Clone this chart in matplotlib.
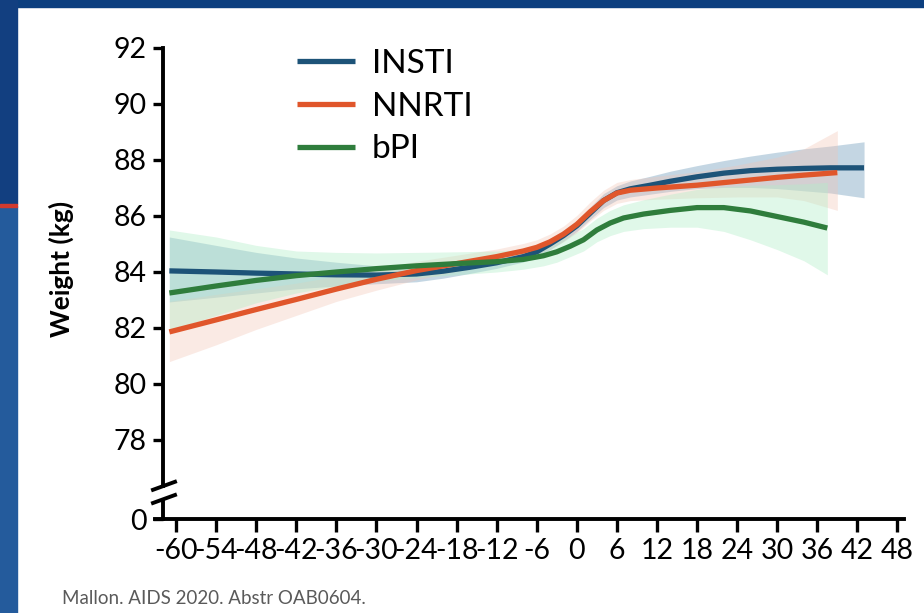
import matplotlib
matplotlib.use('Agg')
import matplotlib.pyplot as plt
from matplotlib.patches import Rectangle
from matplotlib.lines import Line2D

plt.rcParams['font.family'] = ['Lato', 'DejaVu Sans']

# months from ART switch
insti_m = [-61, -54, -48, -42, -36, -30, -24, -20, -16, -12, -8, -6, -4, -2, 0, 2, 4, 6, 8, 11, 14, 18, 22, 26, 30, 34, 38, 43]
insti_y = [84.04, 84.0, 83.96, 83.93, 83.9, 83.89, 83.93, 84.03, 84.17, 84.33, 84.55, 84.72, 85.0, 85.3, 85.65,
           86.1, 86.55, 86.83, 86.97, 87.1, 87.24, 87.4, 87.53, 87.62, 87.67, 87.7, 87.72, 87.72]
insti_lo = [82.93, 83.1, 83.25, 83.4, 83.5, 83.58, 83.65, 83.78, 83.95, 84.13, 84.36, 84.53, 84.8, 85.1, 85.45,
            85.88, 86.3, 86.57, 86.68, 86.78, 86.88, 86.98, 87.02, 87.02, 86.98, 86.9, 86.82, 86.65]
insti_hi = [85.25, 84.95, 84.7, 84.5, 84.35, 84.22, 84.2, 84.27, 84.38, 84.52, 84.74, 84.91, 85.2, 85.5, 85.85,
            86.32, 86.8, 87.08, 87.25, 87.42, 87.6, 87.8, 87.98, 88.14, 88.28, 88.4, 88.5, 88.65]

nnrti_m = [-61, -54, -48, -42, -36, -30, -24, -18, -12, -8, -6, -4, -2, 0, 2, 4, 6, 8, 12, 18, 24, 30, 34, 39]
nnrti_y = [81.86, 82.29, 82.66, 83.02, 83.39, 83.74, 84.05, 84.3, 84.55, 84.75, 84.88, 85.08, 85.35, 85.7,
           86.15, 86.55, 86.82, 86.92, 87.0, 87.1, 87.24, 87.38, 87.46, 87.55]
nnrti_lo = [80.8, 81.4, 81.95, 82.45, 82.95, 83.35, 83.72, 84.02, 84.3, 84.5, 84.63, 84.82, 85.08, 85.4,
            85.82, 86.2, 86.45, 86.55, 86.6, 86.65, 86.68, 86.68, 86.55, 86.2]
nnrti_hi = [82.95, 83.2, 83.4, 83.6, 83.85, 84.12, 84.38, 84.6, 84.82, 85.02, 85.15, 85.36, 85.64, 86.02,
            86.5, 86.92, 87.2, 87.3, 87.42, 87.58, 87.82, 88.1, 88.4, 89.05]

bpi_m = [-61, -54, -48, -42, -36, -30, -24, -18, -12, -8, -5, -3, -1, 1, 3, 5, 7, 10, 14, 18, 22, 26, 30, 34, 37.5]
bpi_y = [83.25, 83.5, 83.7, 83.87, 84.0, 84.12, 84.22, 84.3, 84.37, 84.45, 84.58, 84.72, 84.92, 85.15, 85.5,
         85.75, 85.93, 86.07, 86.2, 86.3, 86.3, 86.18, 85.98, 85.78, 85.57]
bpi_lo = [81.9, 82.45, 82.9, 83.25, 83.5, 83.68, 83.8, 83.9, 84.0, 84.1, 84.22, 84.35, 84.55, 84.75, 85.08,
          85.3, 85.45, 85.55, 85.6, 85.6, 85.45, 85.15, 84.8, 84.4, 83.9]
bpi_hi = [85.5, 85.25, 84.95, 84.75, 84.7, 84.68, 84.7, 84.72, 84.75, 84.8, 84.94, 85.1, 85.3, 85.55, 85.92,
          86.2, 86.4, 86.58, 86.78, 86.95, 87.05, 87.1, 87.12, 87.15, 87.2]

series = ['INSTI', 'NNRTI', 'bPI']
line_cols = ['#1d5378', '#e0562b', '#2f7d3c']
band_cols = ['#9dbcd1', '#f3c3b3', '#b2eec8']
band_alpha = [0.6, 0.35, 0.4]

xticks = list(range(-60, 49, 6))
yticks = [78, 80, 82, 84, 86, 88, 90, 92]
y_zero = 78 - 79 / 28.0   # where the broken axis puts 0

W, H = 924, 613
fig = plt.figure(figsize=(W / 100, H / 100), dpi=100, facecolor='white')

# slide frame
fig.add_artist(Rectangle((0, 1 - 7 / H), 1, 7 / H, transform=fig.transFigure, color='#0c3f7f', zorder=0))
fig.add_artist(Rectangle((0, 1 - 204 / H), 17 / W, 204 / H, transform=fig.transFigure, color='#123f80', zorder=0))
fig.add_artist(Rectangle((0, 0), 17 / W, 1 - 206 / H, transform=fig.transFigure, color='#245b9c', zorder=0))
fig.add_artist(Rectangle((0, 1 - 207 / H), 17 / W, 3 / H, transform=fig.transFigure, color='#d23a2e', zorder=0))

ax = fig.add_axes([163 / W, 1 - 519 / H, (904 - 163) / W, (519 - 48) / H])

data = [(insti_m, insti_y, insti_lo, insti_hi),
        (nnrti_m, nnrti_y, nnrti_lo, nnrti_hi),
        (bpi_m, bpi_y, bpi_lo, bpi_hi)]

for (m, y, lo, hi), c, a in zip(data, band_cols, band_alpha):
    ax.fill_between(m, lo, hi, color=c, alpha=a, lw=0, zorder=1)
handles = []
for (m, y, lo, hi), c, name in zip(data, line_cols, series):
    ln, = ax.plot(m, y, color=c, lw=3.8, solid_capstyle='butt', zorder=3, label=name)
    handles.append(ln)

ax.set_xlim(-61.95, 48.98)
ax.set_ylim(y_zero, 92)
ax.set_xticks(xticks)
ax.set_xticklabels([str(t) for t in xticks])
ax.set_yticks([y_zero] + yticks)
ax.set_yticklabels(['0'] + [str(t) for t in yticks])
ax.tick_params(axis='both', labelsize=20.5, width=2.4, length=7, color='black', pad=5)
ax.tick_params(axis='x', length=9, pad=5)

for s in ['top', 'right', 'left', 'bottom']:
    ax.spines[s].set_visible(False)

# axes lines with break on y
kw = dict(transform=ax.transAxes, color='black', lw=2.8, clip_on=False, zorder=5)
ax.add_line(Line2D([-0.011, 1.0], [0, 0], **kw))
ax.add_line(Line2D([0, 0], [0.07, 1.0], **kw))
ax.add_line(Line2D([0, 0], [0, 0.036], **kw))
ax.add_line(Line2D([-0.0135, 0.0162], [0.062, 0.079], **kw))
ax.add_line(Line2D([-0.0135, 0.0162], [0.034, 0.051], **kw))

ax.set_ylabel('Weight (kg)', fontsize=19, fontweight='bold')
ax.yaxis.set_label_coords(-0.12, 0.53)

fig.legend(handles=handles, labels=series, loc='upper left', bbox_to_anchor=(297 / W, 1 - 49 / H),
           frameon=False, fontsize=24, handlelength=1.75, handletextpad=0.5, labelspacing=0.38,
           borderpad=0, borderaxespad=0)

fig.text(62 / W, 1 - 598 / H, 'Mallon. AIDS 2020. Abstr OAB0604.', fontsize=13.5, color='#5a5a5a',
         va='center', ha='left')

fig.savefig('out.png', dpi=100, facecolor='white')
